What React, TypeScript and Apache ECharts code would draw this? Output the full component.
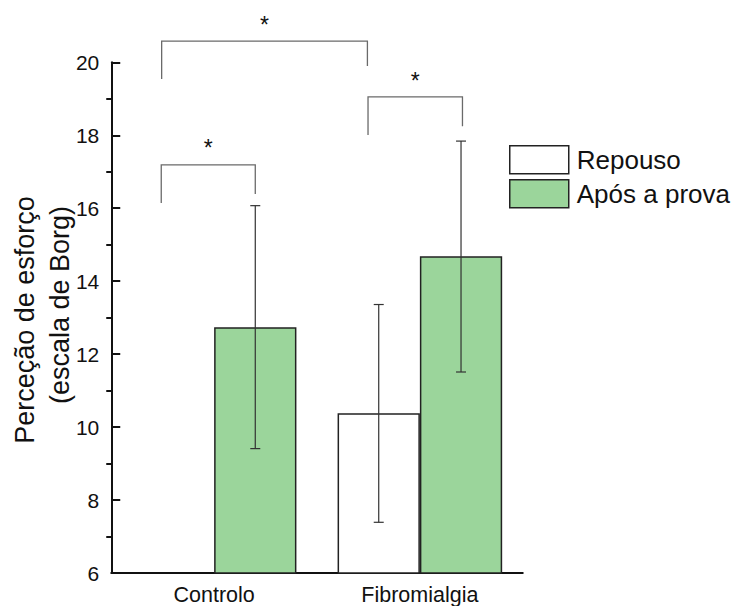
import React, { useEffect, useRef } from 'react';
import * as echarts from 'echarts';

const categories = ['Controlo', 'Fibromialgia'];
const seriesNames = ['Repouso', 'Após a prova'];
const repouso = [6, 10.38];
const aposProva = [12.74, 14.68];
// error bars: [categoryIndex, low, high]
const repousoErr = [[1, 7.39, 13.36]];
const aposErr = [[0, 9.41, 16.07], [1, 11.51, 17.84]];
// significance brackets in axis units: [xLeft, xRight, leftBottom, top, rightBottom, starY]
const brackets = [
  [-0.255, 0.745, 19.54, 20.58, 19.9, 21.1],
  [-0.257, 0.2, 16.14, 17.19, 16.39, 17.73],
  [0.748, 1.207, 18.01, 19.05, 18.25, 19.58],
];
const yTicks = { min: 6, max: 20, interval: 2 };
const yTitle = ['Perceção de esforço', '(escala de Borg)'];

const FONT = 'Liberation Sans, Arial, sans-serif';

function errRender(offset: number) {
  return (params: any, api: any) => {
    const idx = api.value(0);
    const lo = api.coord([idx, api.value(1)]);
    const hi = api.coord([idx, api.value(2)]);
    const bw = api.size([1, 0])[0];
    const x = lo[0] + offset * bw;
    const style = { stroke: '#333', lineWidth: 1.2 };
    const cap = 5;
    return {
      type: 'group',
      children: [
        { type: 'line', shape: { x1: x, y1: lo[1], x2: x, y2: hi[1] }, style },
        { type: 'line', shape: { x1: x - cap, y1: lo[1], x2: x + cap, y2: lo[1] }, style },
        { type: 'line', shape: { x1: x - cap, y1: hi[1], x2: x + cap, y2: hi[1] }, style },
      ],
    };
  };
}

function bracketRender(params: any, api: any) {
  const x1 = api.value(0);
  const x2 = api.value(1);
  const lb = api.coord([x1, api.value(2)]);
  const lt = api.coord([x1, api.value(3)]);
  const rt = api.coord([x2, api.value(3)]);
  const rb = api.coord([x2, api.value(4)]);
  const st = api.coord([(x1 + x2) / 2, api.value(5)]);
  return {
    type: 'group',
    children: [
      {
        type: 'polyline',
        shape: { points: [lb, lt, rt, rb] },
        style: { stroke: '#6a6a6a', lineWidth: 1.3, fill: 'none' },
      },
      {
        type: 'text',
        x: st[0],
        y: st[1] + 3,
        style: {
          text: '*',
          fontSize: 23,
          fontFamily: FONT,
          fill: '#111',
          align: 'center',
          verticalAlign: 'middle',
        },
      },
    ],
  };
}

export default function App() {
  const ref = useRef<HTMLDivElement>(null);
  useEffect(() => {
    if (!ref.current) return;
    const chart = echarts.init(ref.current, null, { renderer: 'svg' });
    chart.setOption({
      animation: false,
      backgroundColor: '#fff',
      textStyle: { fontFamily: FONT },
      grid: { left: 111.25, right: 210.25, top: 62.3, bottom: 29.3, containLabel: false },
      legend: {
        data: seriesNames,
        orient: 'vertical',
        left: 509,
        top: 145,
        padding: 0,
        itemWidth: 59,
        itemHeight: 28,
        itemGap: 4.5,
        icon: 'rect',
        itemStyle: { borderColor: '#222', borderWidth: 1.5 },
        textStyle: { fontSize: 26, color: '#111', fontFamily: FONT, padding: [0, 0, 0, 3] },
      },
      xAxis: [
        {
          type: 'category',
          data: categories,
          axisLine: { onZero: false, lineStyle: { color: '#111', width: 2 } },
          axisTick: { show: false },
          axisLabel: { fontSize: 21.5, color: '#111', margin: 11, fontFamily: FONT },
        },
        { type: 'value', min: -0.5, max: 1.5, show: false },
      ],
      yAxis: [
        {
          type: 'value',
          min: yTicks.min,
          max: yTicks.max,
          interval: yTicks.interval,
          splitLine: { show: false },
          axisLine: { show: true, onZero: false, lineStyle: { color: '#111', width: 2 } },
          axisTick: { show: true, inside: true, length: 9, lineStyle: { color: '#111', width: 2 } },
          axisLabel: { fontSize: 21, color: '#111', margin: 12, fontFamily: FONT },
        },
        {
          type: 'value',
          min: yTicks.min,
          max: yTicks.max,
          interval: yTicks.interval,
          position: 'left',
          offset: 0,
          splitLine: { show: false },
          axisLine: { show: false, onZero: false },
          axisTick: { show: false },
          axisLabel: { show: false },
          minorTick: { show: true, splitNumber: 2, length: 5, lineStyle: { color: '#111', width: 2 } },
          minorSplitLine: { show: false },
        },
      ],
      graphic: [
        {
          type: 'text',
          x: 25,
          y: 320,
          rotation: Math.PI / 2,
          style: {
            text: yTitle[0],
            fontSize: 27,
            fontFamily: FONT,
            fill: '#111',
            align: 'center',
            verticalAlign: 'middle',
          },
        },
        {
          type: 'text',
          x: 60,
          y: 305,
          rotation: Math.PI / 2,
          style: {
            text: yTitle[1],
            fontSize: 27,
            fontFamily: FONT,
            fill: '#111',
            align: 'center',
            verticalAlign: 'middle',
          },
        },
      ],
      series: [
        {
          name: seriesNames[0],
          type: 'bar',
          data: repouso,
          barWidth: '40%',
          barGap: '0%',
          itemStyle: { color: '#ffffff', borderColor: '#222', borderWidth: 1.5 },
          z: 2,
        },
        {
          name: seriesNames[1],
          type: 'bar',
          data: aposProva,
          barWidth: '40%',
          barGap: '0%',
          itemStyle: { color: '#9bd59b', borderColor: '#222', borderWidth: 1.5 },
          z: 2,
        },
        {
          type: 'custom',
          data: repousoErr,
          encode: { x: 0, y: [1, 2] },
          renderItem: errRender(-0.2),
          z: 5,
          silent: true,
        },
        {
          type: 'custom',
          data: aposErr,
          encode: { x: 0, y: [1, 2] },
          renderItem: errRender(0.2),
          z: 5,
          silent: true,
        },
        {
          type: 'custom',
          xAxisIndex: 1,
          data: brackets,
          encode: { x: [0, 1], y: [2, 3, 4, 5] },
          renderItem: bracketRender,
          clip: false,
          z: 5,
          silent: true,
        },
      ],
    });
    return () => chart.dispose();
  }, []);
  return (
    <div
      ref={ref}
      style={{ position: 'fixed', left: 0, top: 0, width: 733, height: 606, background: '#fff' }}
    />
  );
}
